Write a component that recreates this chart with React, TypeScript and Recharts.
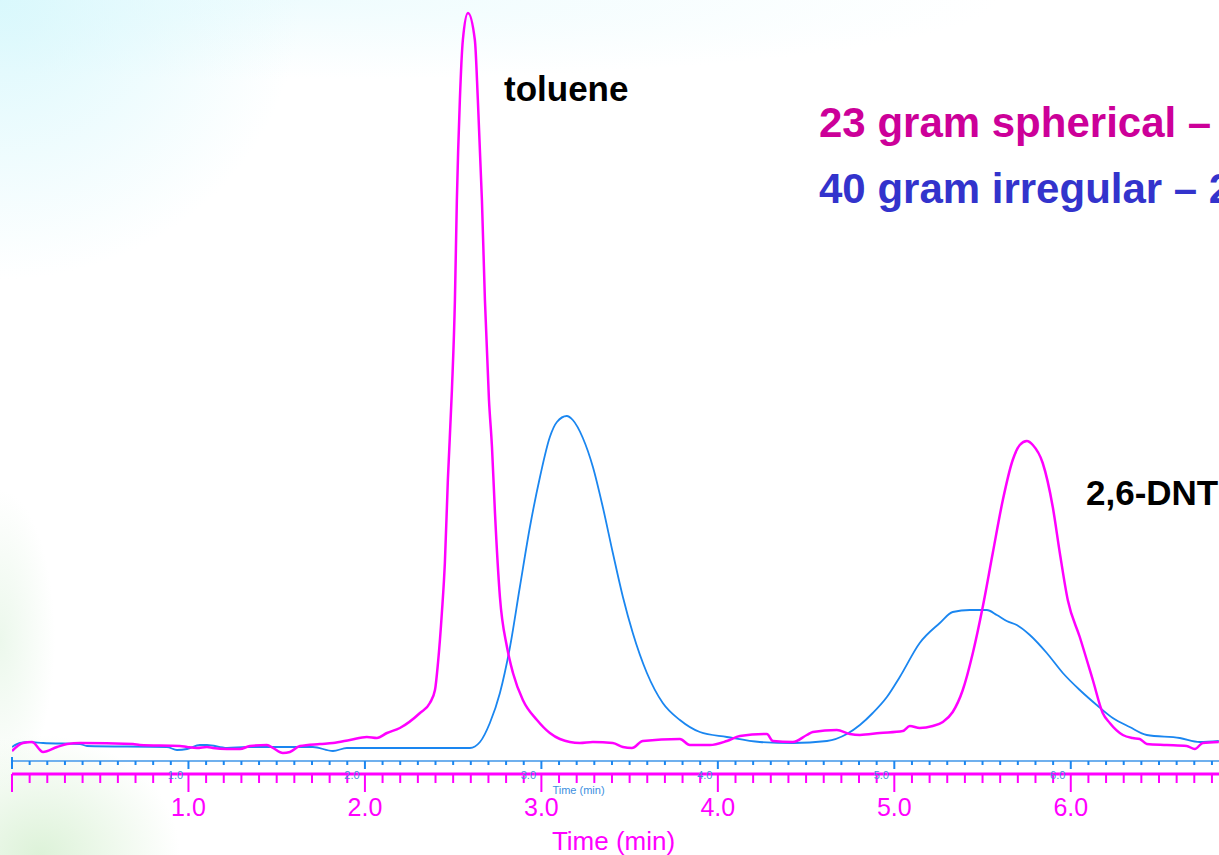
import React from 'react';
import { Label, Line, LineChart, XAxis, YAxis } from 'recharts';

// Retention time (min) and detector signal for the 23 g spherical column
const sphericalTime = [
  0, 0.062, 0.113, 0.176, 0.255, 0.312, 0.385, 0.686, 0.725, 0.952, 0.992, 1.048, 1.105, 1.139,
  1.218, 1.292, 1.348, 1.445, 1.479, 1.535, 1.575, 1.632, 1.745, 1.819, 1.915, 2.011, 2.068,
  2.125, 2.198, 2.312, 2.368, 2.397, 2.414, 2.436, 2.453, 2.47, 2.493, 2.51, 2.521, 2.538, 2.555,
  2.584, 2.623, 2.64, 2.663, 2.68, 2.703, 2.72, 2.737, 2.765, 2.805, 2.839, 2.895, 2.975, 3.048,
  3.105, 3.218, 3.292, 3.405, 3.462, 3.513, 3.575, 3.785, 3.841, 3.955, 4.051, 4.125, 4.278,
  4.312, 4.425, 4.504, 4.538, 4.674, 4.748, 4.805, 4.918, 5.048, 5.088, 5.144, 5.218, 5.275,
  5.331, 5.388, 5.445, 5.501, 5.558, 5.615, 5.671, 5.711, 5.751, 5.785, 5.841, 5.898, 5.938,
  5.983, 6.051, 6.125, 6.181, 6.221, 6.295, 6.351, 6.391, 6.431, 6.544, 6.657, 6.703, 6.748, 6.839,
];
const sphericalSignal = [
  -6, 2, 3, -7, -2, 1, 2, 1, 0, -1, -2, -3, -2, -3,
  -4, -4, -1, 0, -3, -8, -7, -1, 1, 2, 5, 8, 7,
  12, 17, 32, 42, 55, 82, 132, 182, 265, 355, 445, 545, 645, 705,
  732, 705, 645, 545, 445, 345, 298, 232, 148, 98, 72, 45, 25, 12,
  6, 2, 3, 2, -2, -3, 4, 6, 0, 0, 4, 9, 11,
  4, 3, 10, 13, 15, 11, 10, 12, 14, 19, 17, 19, 23,
  33, 55, 92, 138, 192, 245, 285, 300, 304, 300, 282, 238, 192,
  145, 108, 65, 32, 22, 10, 7, 6, 1, 0, -1, -4, 2, 3,
];

// Retention time (min) and detector signal for the 40 g irregular column
const irregularTime = [
  0, 0.045, 0.102, 0.176, 0.385, 0.425, 0.878, 0.935, 0.992, 1.065, 1.105, 1.218, 1.331, 1.705,
  1.819, 1.898, 2.198, 2.595, 2.652, 2.708, 2.765, 2.822, 2.878, 2.935, 2.992, 3.048, 3.088,
  3.144, 3.178, 3.235, 3.292, 3.348, 3.405, 3.462, 3.518, 3.598, 3.688, 3.785, 3.898, 4.051,
  4.238, 4.425, 4.618, 4.731, 4.805, 4.878, 4.958, 5.031, 5.144, 5.258, 5.331, 5.428, 5.524,
  5.581, 5.637, 5.694, 5.768, 5.864, 5.955, 6.051, 6.147, 6.238, 6.334, 6.431, 6.618, 6.731, 6.839,
];
const irregularSignal = [
  -2, 2, 3, 2, 1, -1, -2, -5, -4, 0, 0, -3, -2, -2,
  -6, -3, -3, -3, 3, 22, 52, 98, 158, 218, 268, 308, 323,
  329, 325, 307, 278, 238, 192, 148, 112, 72, 42, 25, 13, 8,
  3, 2, 4, 11, 20, 32, 48, 68, 102, 122, 133, 135, 135,
  130, 124, 120, 110, 92, 72, 55, 40, 27, 18, 10, 7, 3, 4,
];

const timeDomain: [number, number] = [0, 6.84];
const majorTicks = [0, 1, 2, 3, 4, 5, 6];
const minorStep = 0.1;
const minorCount = 69;

const sphericalData = sphericalTime.map((t, i) => ({ t, v: sphericalSignal[i] }));
const irregularData = irregularTime.map((t, i) => ({ t, v: irregularSignal[i] }));
const timeTicks = Array.from({ length: minorCount }, (_, i) => Number((i * minorStep).toFixed(1)));

const PINK = '#ff00ff';
const BLUE = '#1a86f0';
const BLUE_TEXT = '#3d8fe0';
const FONT = '"Liberation Sans", Arial, sans-serif';

const isMajor = (v: number) => majorTicks.includes(v);

function BlueTick(props: any) {
  const { x, y, payload } = props;
  const v = payload.value as number;
  const major = isMajor(v);
  return (
    <line x1={x} x2={x} y1={v === 0 ? y - 4 : y} y2={y + (major ? 8 : 4)} stroke={BLUE} strokeWidth={2} />
  );
}

// the small blue minute labels sit on top of the pink axis line, so they are drawn with the pink ticks
function PinkTick(props: any) {
  const { x, y, payload } = props;
  const v = payload.value as number;
  const major = isMajor(v);
  return (
    <g>
      <line x1={x} x2={x} y1={y} y2={y + (major ? 18 : 9)} stroke={PINK} strokeWidth={2} />
      {major && v > 0 && (
        <>
          <text x={x - 13} y={y + 5} fill={BLUE_TEXT} fontSize={11} fontFamily={FONT} textAnchor="middle">
            {v.toFixed(1)}
          </text>
          <text x={x} y={y + 42} fill={PINK} fontSize={25} fontFamily={FONT} textAnchor="middle">
            {v.toFixed(1)}
          </text>
        </>
      )}
    </g>
  );
}

const note: React.CSSProperties = {
  position: 'absolute',
  fontFamily: FONT,
  fontWeight: 'bold',
  whiteSpace: 'nowrap',
  lineHeight: 1,
};

export default function App() {
  return (
    <div
      style={{
        position: 'absolute',
        left: 0,
        top: 0,
        width: 1219,
        height: 855,
        overflow: 'hidden',
        background:
          'radial-gradient(ellipse 300px 280px at 0px 0px, rgba(212,247,252,0.85), rgba(255,255,255,0) 100%),' +
          'radial-gradient(ellipse 700px 80px at 300px 0px, rgba(228,250,253,0.6), rgba(255,255,255,0) 100%),' +
          'radial-gradient(ellipse 140px 120px at 40px 855px, rgba(215,240,210,0.85), rgba(255,255,255,0) 100%),' +
          'radial-gradient(ellipse 55px 150px at 0px 640px, rgba(228,245,228,0.7), rgba(255,255,255,0) 100%),' +
          '#ffffff',
      }}
    >
      <LineChart width={1219} height={855} margin={{ top: 0, right: 0, bottom: 0, left: 12 }}>
        <YAxis hide domain={[-16, 745]} allowDataOverflow />
        <XAxis
          xAxisId="irregular"
          type="number"
          dataKey="t"
          domain={timeDomain}
          allowDataOverflow
          ticks={timeTicks}
          interval={0}
          height={13}
          tickSize={0}
          tickMargin={0}
          tickLine={false}
          axisLine={{ stroke: '#6fb0ee', strokeWidth: 2 }}
          tick={(p: any) => <BlueTick {...p} />}
        >
          <Label value="Time (min)" position="bottom" offset={12} dx={-37} fill={BLUE_TEXT} fontSize={11} fontFamily={FONT} />
        </XAxis>
        <XAxis
          xAxisId="spherical"
          type="number"
          dataKey="t"
          domain={timeDomain}
          allowDataOverflow
          ticks={timeTicks}
          interval={0}
          height={81}
          tickSize={0}
          tickMargin={0}
          tickLine={false}
          axisLine={{ stroke: PINK, strokeWidth: 3 }}
          tick={(p: any) => <PinkTick {...p} />}
        >
          <Label value="Time (min)" position="insideBottom" offset={5} dx={-2} fill={PINK} fontSize={26} fontFamily={FONT} />
        </XAxis>
        <Line
          xAxisId="irregular"
          data={irregularData}
          dataKey="v"
          type="monotone"
          stroke={BLUE}
          strokeWidth={1.8}
          dot={false}
          activeDot={false}
          isAnimationActive={false}
        />
        <Line
          xAxisId="spherical"
          data={sphericalData}
          dataKey="v"
          type="monotone"
          stroke={PINK}
          strokeWidth={2.5}
          dot={false}
          activeDot={false}
          isAnimationActive={false}
        />
      </LineChart>
      <div style={{ ...note, left: 504, top: 71, fontSize: 35, color: '#000' }}>toluene</div>
      <div style={{ ...note, left: 1086, top: 475, fontSize: 35, color: '#000' }}>2,6-DNT</div>
      <div style={{ ...note, left: 819, top: 102, fontSize: 42, color: '#cc0099' }}>23 gram spherical –</div>
      <div style={{ ...note, left: 819, top: 168, fontSize: 42, color: '#3333cc' }}>40 gram irregular – 2</div>
    </div>
  );
}
